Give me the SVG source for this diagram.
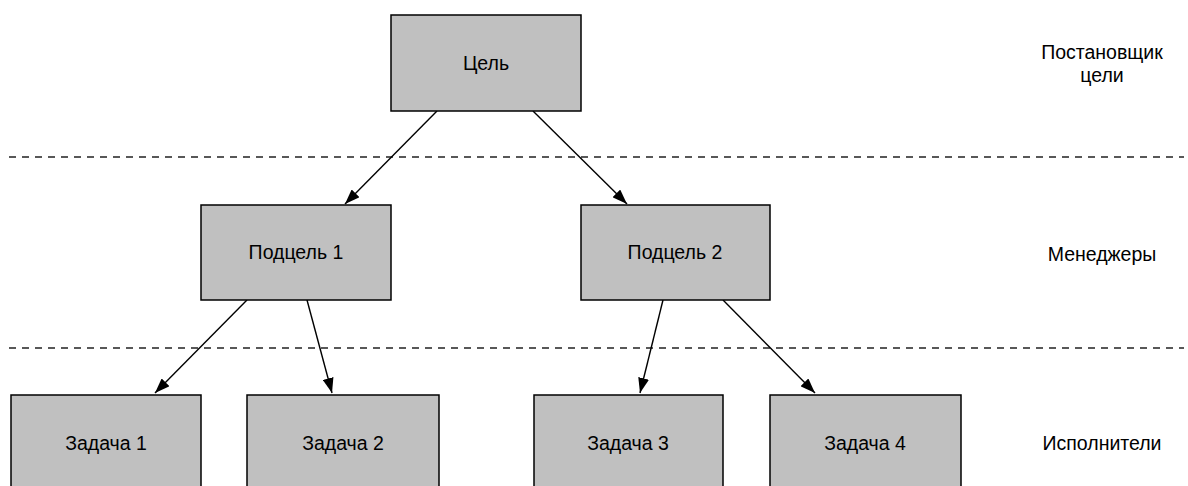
<svg xmlns="http://www.w3.org/2000/svg" width="1188" height="486" viewBox="0 0 1188 486">
<style>
.box{fill:#c0c0c0;stroke:#000;stroke-width:1.5}
.t{font-family:"Liberation Sans",Arial,sans-serif;font-size:19.5px;fill:#000;text-anchor:middle}
.dash{stroke:#222;stroke-width:1.5;stroke-dasharray:7 6;fill:none}
.c{stroke:#000;stroke-width:1.4;fill:none;marker-end:url(#ah)}
</style>
<defs>
<marker id="ah" viewBox="0 0 15 11" refX="15" refY="5.5" markerWidth="15" markerHeight="11" markerUnits="userSpaceOnUse" orient="auto">
<path d="M0,0 L15,5.5 L0,11 Z" fill="#000"/>
</marker>
</defs>
<rect width="1188" height="486" fill="#fff"/>
<g id="separators">
<line class="dash" x1="9" y1="157" x2="1184" y2="157"/>
<line class="dash" x1="9" y1="348" x2="1184" y2="348"/>
</g>
<g id="connectors">
<line class="c" x1="437" y1="111" x2="345" y2="204"/>
<line class="c" x1="533" y1="111" x2="627" y2="204"/>
<line class="c" x1="247" y1="300" x2="155" y2="393"/>
<line class="c" x1="307" y1="300" x2="332" y2="393"/>
<line class="c" x1="663" y1="300" x2="640" y2="393"/>
<line class="c" x1="723" y1="300" x2="815" y2="393"/>
</g>
<g id="goal"><rect class="box" x="391" y="15" width="190" height="96"/><text class="t" x="486" y="70">Цель</text></g>
<g id="sub1"><rect class="box" x="201" y="205" width="190" height="95"/><text class="t" x="296" y="259">Подцель 1</text></g>
<g id="sub2"><rect class="box" x="581" y="205" width="189" height="95"/><text class="t" x="675" y="259">Подцель 2</text></g>
<g id="task1"><rect class="box" x="11" y="395" width="190" height="100"/><text class="t" x="106" y="450">Задача 1</text></g>
<g id="task2"><rect class="box" x="247" y="395" width="192" height="100"/><text class="t" x="343" y="450">Задача 2</text></g>
<g id="task3"><rect class="box" x="534" y="395" width="189" height="100"/><text class="t" x="628" y="450">Задача 3</text></g>
<g id="task4"><rect class="box" x="770" y="395" width="191" height="100"/><text class="t" x="865" y="450">Задача 4</text></g>
<g id="labels">
<text class="t" x="1102" y="59">Постановщик</text>
<text class="t" x="1102" y="82">цели</text>
<text class="t" x="1102" y="261">Менеджеры</text>
<text class="t" x="1102" y="450">Исполнители</text>
</g>
</svg>
